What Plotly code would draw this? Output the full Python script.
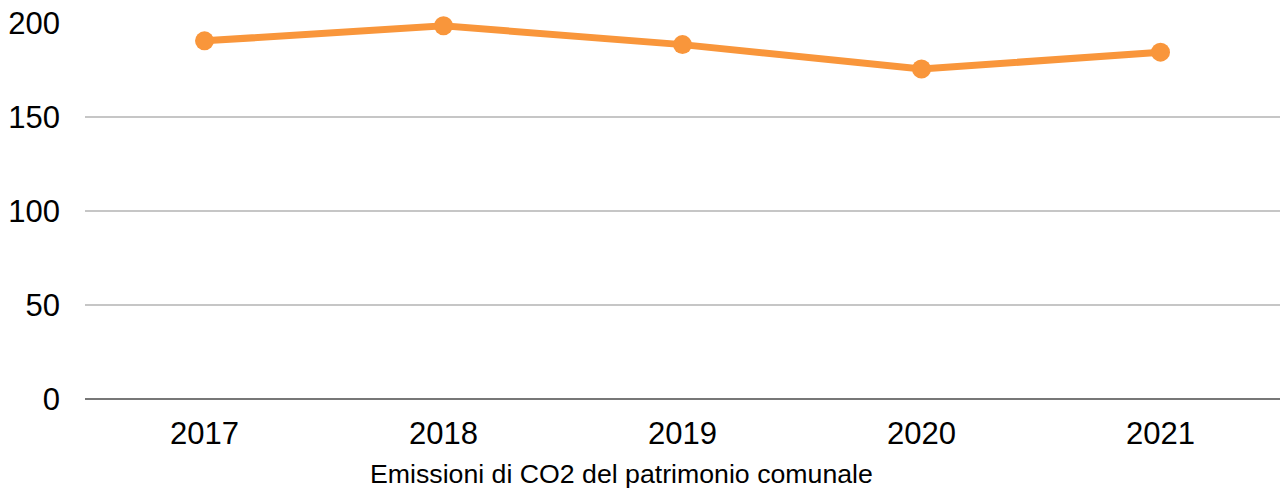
import plotly.graph_objects as go

years = ["2017", "2018", "2019", "2020", "2021"]
emissions = [190.5, 198.5, 188.5, 175.5, 184.5]
y_ticks = [0, 50, 100, 150, 200]
title_text = "Emissioni di CO2 del patrimonio comunale"

fig = go.Figure()
fig.add_trace(go.Scatter(
    x=years, y=emissions, mode="lines+markers",
    line=dict(color="#F9963B", width=7),
    marker=dict(color="#F9963B", size=19),
    cliponaxis=False, showlegend=False,
))

font_family = "Liberation Sans, Arial, sans-serif"
fig.update_layout(
    width=1280, height=489,
    margin=dict(l=85, r=0, t=23, b=90),
    paper_bgcolor="white", plot_bgcolor="white",
    font=dict(family=font_family, color="#000000"),
    xaxis=dict(
        type="category", range=[-0.5, 4.5], showgrid=False, zeroline=False,
        showline=False, ticks="",
        tickfont=dict(size=31, family=font_family, color="#000"),
        ticklabelstandoff=13,
    ),
    yaxis=dict(
        range=[0, 200], tickvals=y_ticks, showgrid=True,
        gridcolor="#C6C6C6", gridwidth=1.6,
        zeroline=True, zerolinecolor="#777777", zerolinewidth=2,
        showline=False, ticks="",
        tickfont=dict(size=31, family=font_family, color="#000"),
        ticklabelstandoff=24,
    ),
    annotations=[dict(
        text=title_text, xref="paper", yref="paper",
        x=0.449, y=0, yshift=-75, xanchor="center", yanchor="middle",
        showarrow=False, font=dict(size=26.7, family=font_family, color="#000"),
    )],
)

fig.write_html("out.html", config={"displayModeBar": False},
               post_script="document.body.style.margin='0';")
